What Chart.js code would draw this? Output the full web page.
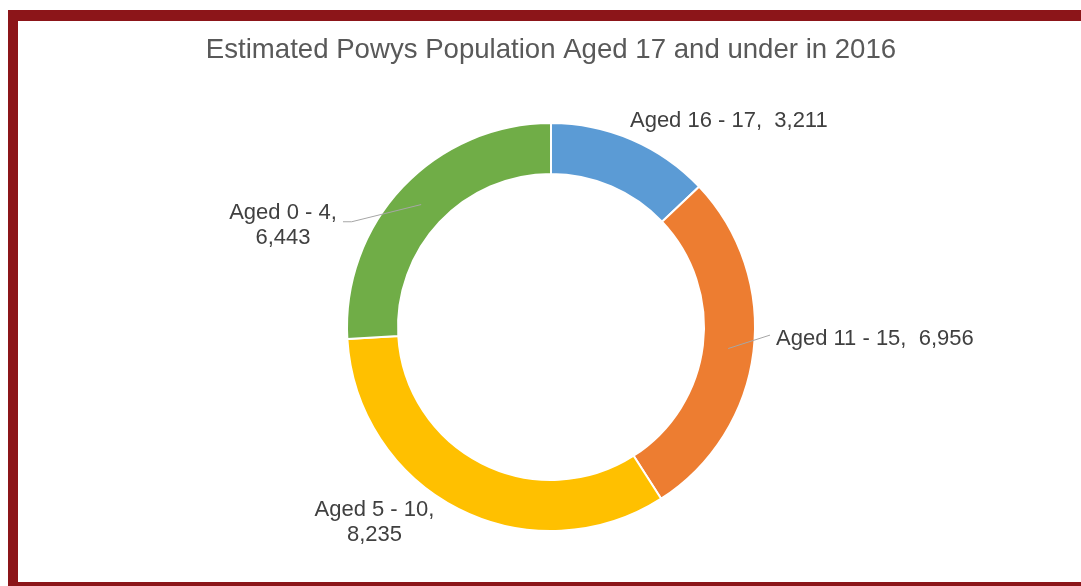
<!DOCTYPE html>
<html>
<head>
<meta charset="utf-8">
<script src="https://cdn.jsdelivr.net/npm/chart.js@4/dist/chart.umd.min.js"></script>
<style>
  html, body { margin: 0; padding: 0; background: #ffffff; overflow: hidden; }
  #frame {
    position: absolute; left: 8px; top: 10px; width: 1200px; height: 582px;
    box-sizing: border-box; border-style: solid; border-color: #8C1519;
    border-width: 11px 0 10px 10px; background: #ffffff;
  }
  #wrap { position: absolute; left: 0; top: 0; width: 1081px; height: 586px; }
</style>
</head>
<body>
<div id="frame"></div>
<div id="wrap"><canvas id="c" width="1081" height="586"></canvas></div>
<script>
const categories = ['Aged 16 - 17', 'Aged 11 - 15', 'Aged 5 - 10', 'Aged 0 - 4'];
const populationValues = [3211, 6956, 8235, 6443];
const sliceColors = ['#5B9BD5', '#ED7D31', '#FFC000', '#70AD47'];
const chartTitle = 'Estimated Powys Population Aged 17 and under in 2016';

// label placement styles (offsets relative to the outer mid-point of each slice)
const labelStyles = [
  { twoLine: false, align: 'left',   dx: -1.6,  dy: -18.5, lineGap: 0 },
  { twoLine: false, align: 'left',   dx: 22.5,  dy: -13,   lineGap: 0, leader: [[16.5, -16.5]] },
  { twoLine: true,  align: 'center', dx: -84,   dy: 1,     lineGap: 25 },
  { twoLine: true,  align: 'center', dx: -119.6, dy: 26,   lineGap: 24.5, leader: [[-50.9, 34.7], [-59.6, 34.7]] }
];

const fmt = v => v.toLocaleString('en-GB');

const labelPlugin = {
  id: 'sliceLabels',
  afterDatasetsDraw(chart) {
    const ctx = chart.ctx;
    const meta = chart.getDatasetMeta(0);
    const ds = chart.data.datasets[0];
    ctx.save();
    meta.data.forEach((arc, i) => {
      const p = arc.getProps(['x', 'y', 'startAngle', 'endAngle', 'innerRadius', 'outerRadius'], true);
      const mid = (p.startAngle + p.endAngle) / 2;
      const px = p.x + Math.cos(mid) * p.outerRadius;
      const py = p.y + Math.sin(mid) * p.outerRadius;
      const st = labelStyles[i];
      const cat = chart.data.labels[i];
      const val = fmt(ds.data[i]);
      if (st.leader) {
        const rm = (p.innerRadius + p.outerRadius) / 2;
        ctx.beginPath();
        ctx.moveTo(p.x + Math.cos(mid) * rm, p.y + Math.sin(mid) * rm);
        st.leader.forEach(pt => ctx.lineTo(px + pt[0], py + pt[1]));
        ctx.strokeStyle = '#A6A6A6';
        ctx.lineWidth = 1;
        ctx.stroke();
      }
      ctx.font = '22px "Liberation Sans", Arial, sans-serif';
      ctx.fillStyle = '#404040';
      ctx.textAlign = st.align;
      ctx.textBaseline = 'middle';
      if (st.twoLine) {
        ctx.fillText(cat + ',', px + st.dx, py + st.dy);
        ctx.fillText(val, px + st.dx, py + st.dy + st.lineGap);
      } else {
        ctx.fillText(cat + ',  ' + val, px + st.dx, py + st.dy);
      }
    });
    ctx.restore();
  }
};

new Chart(document.getElementById('c'), {
  type: 'doughnut',
  data: {
    labels: categories,
    datasets: [{
      data: populationValues,
      backgroundColor: sliceColors,
      borderColor: '#ffffff',
      borderWidth: 2
    }]
  },
  options: {
    responsive: false,
    devicePixelRatio: 1,
    animation: false,
    cutout: '75%',
    layout: { padding: { top: 34, bottom: 54, left: 38, right: 17 } },
    plugins: {
      legend: { display: false },
      tooltip: { enabled: false },
      title: {
        display: true,
        text: chartTitle,
        color: '#595959',
        font: { family: '"Liberation Sans", Arial, sans-serif', size: 27.6, weight: 'normal', lineHeight: 1.2 },
        padding: { top: 0, bottom: 54.9 }
      }
    }
  },
  plugins: [labelPlugin]
});
</script>
</body>
</html>
